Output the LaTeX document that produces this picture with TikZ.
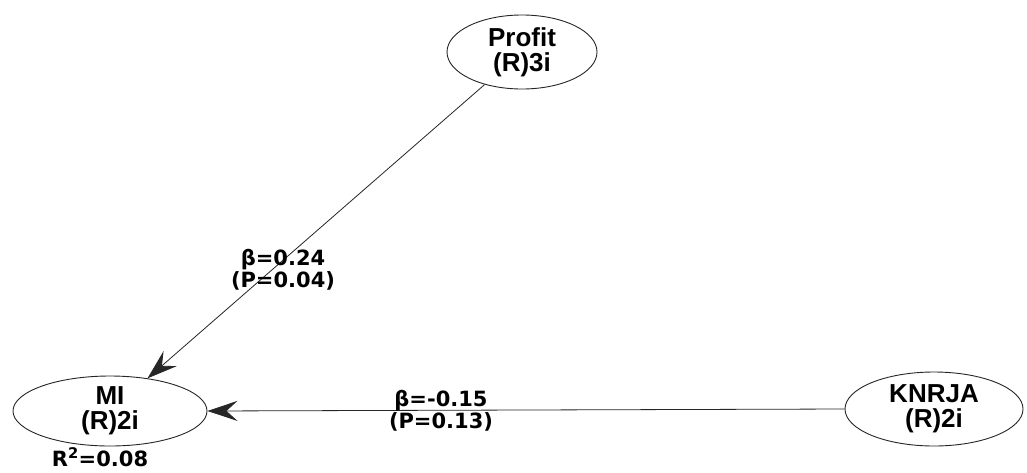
\documentclass[tikz,border=0pt]{standalone}
\usepackage{fontspec}
\usetikzlibrary{shapes.geometric,arrows.meta}
\newfontfamily\nodefont{Liberation Sans}
\newfontfamily\labfont{DejaVu Sans}
\begin{document}
\begin{tikzpicture}[x=1pt,y=-1pt,
  latent/.style={draw=black!85,line width=0.9pt,ellipse,inner sep=0pt,align=center,
    font=\nodefont\bfseries\fontsize{26}{25}\selectfont},
  pathlab/.style={align=center,inner sep=0pt,font=\labfont\bfseries\fontsize{21}{22}\selectfont},
  path/.style={draw=black!85,line width=0.8pt,-{Stealth[length=30pt,width=20pt,inset=11pt]}}]
\useasboundingbox[fill=white] (0,0) rectangle (1027,472);
\node[latent,minimum width=150pt,minimum height=74pt] (profit) at (522,52) {Profit\\(R)3i};
\node[latent,minimum width=194pt,minimum height=70pt] (mi) at (110,411) {MI\\(R)2i};
\node[latent,minimum width=178pt,minimum height=74pt] (knrja) at (934,409) {KNRJA\\(R)2i};
\node[pathlab] (r2) at (100,457) {R\textsuperscript{2}=0.08};
\draw[path] (profit) -- (mi);
\draw[path] (knrja.west) -- (mi.east);
\node[pathlab] (l1) at (283,270) {β=0.24\\(P=0.04)};
\node[pathlab] (l2) at (441,411) {β=-0.15\\(P=0.13)};
\end{tikzpicture}
\end{document}
